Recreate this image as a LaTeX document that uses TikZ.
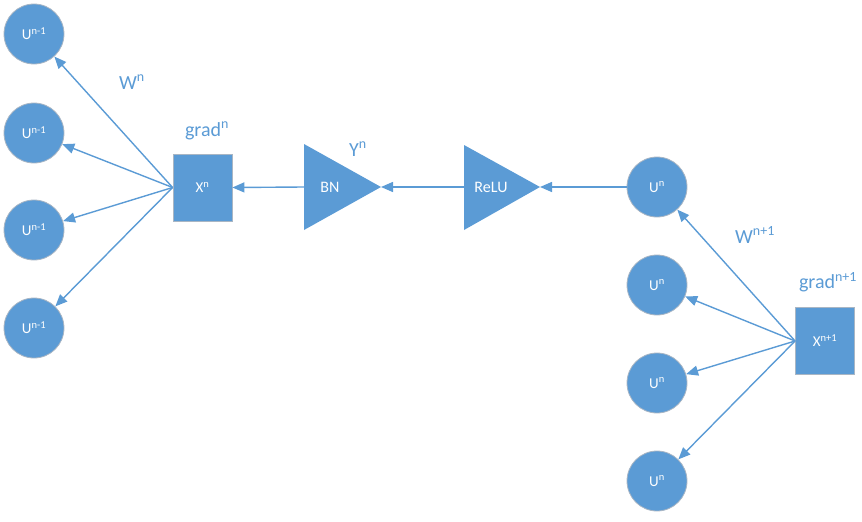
\documentclass[tikz,border=0pt]{standalone}
\usepackage{fontspec}
\setmainfont{Carlito}
\usetikzlibrary{arrows.meta}
\definecolor{bblue}{HTML}{5B9BD5}
\definecolor{bedge}{HTML}{A9B6C4}
\tikzset{
  unit/.style={circle, fill=bblue, draw=bedge, line width=0.8pt, minimum size=60pt, inner sep=0pt, text=white, font=\fontsize{15}{17}\selectfont},
  xbox/.style={rectangle, fill=bblue, draw=bedge, line width=0.8pt, minimum width=59pt, minimum height=67pt, inner sep=0pt, text=white, font=\fontsize{15}{17}\selectfont},
  tri/.style={fill=bblue},
  tritext/.style={text=white, font=\fontsize{16}{18}\selectfont},
  lbl/.style={text=bblue, font=\fontsize{20}{22}\selectfont, inner sep=0pt},
  arr/.style={draw=bblue, line width=1.4pt, -{Triangle[length=12pt,width=10pt]}},
}
\begin{document}
\begin{tikzpicture}[x=1pt,y=-1pt]
\useasboundingbox (0,0) rectangle (862,522);
% left layer
\node[unit] (a1) at (34,34) {U\textsuperscript{n-1}};
\node[unit] (a2) at (34,133) {U\textsuperscript{n-1}};
\node[unit] (a3) at (34,230) {U\textsuperscript{n-1}};
\node[unit] (a4) at (34,328) {U\textsuperscript{n-1}};
\node[xbox] (xn) at (202.5,187.5) {X\textsuperscript{n}};
% BN triangle
\coordinate (bnL) at (304,187);
\coordinate (bnT) at (381,187);
\fill[tri] (304,144) -- (bnT) -- (304,230) -- cycle;
\node[tritext] (bn) at (330,187) {BN};
% ReLU triangle
\coordinate (reL) at (464,187);
\coordinate (reT) at (540,187);
\fill[tri] (464,145) -- (reT) -- (464,230) -- cycle;
\node[tritext] (relu) at (491,187) {ReLU};
% right layer
\node[unit] (b1) at (657,187) {U\textsuperscript{n}};
\node[unit] (b2) at (657,285) {U\textsuperscript{n}};
\node[unit] (b3) at (657,383) {U\textsuperscript{n}};
\node[unit] (b4) at (657,481) {U\textsuperscript{n}};
\node[xbox] (xn1) at (825,341) {X\textsuperscript{n+1}};
% connectors
\foreach \t in {a1,a2,a3,a4} \draw[arr] (xn.west) -- (\t);
\draw[arr] (bnL) -- (xn.east);
\draw[arr] (reL) -- (bnT);
\draw[arr] (b1.west) -- (reT);
\foreach \t in {b1,b2,b3,b4} \draw[arr] (xn1.west) -- (\t);
% labels
\node[lbl] (wn) at (132,82) {W\textsuperscript{n}};
\node[lbl] (gn) at (207,131) {grad\textsuperscript{n}};
\node[lbl] (yn) at (358,149) {Y\textsuperscript{n}};
\node[lbl] (wn1) at (755,235) {W\textsuperscript{n+1}};
\node[lbl] (gn1) at (828,282) {grad\textsuperscript{n+1}};
\end{tikzpicture}
\end{document}
